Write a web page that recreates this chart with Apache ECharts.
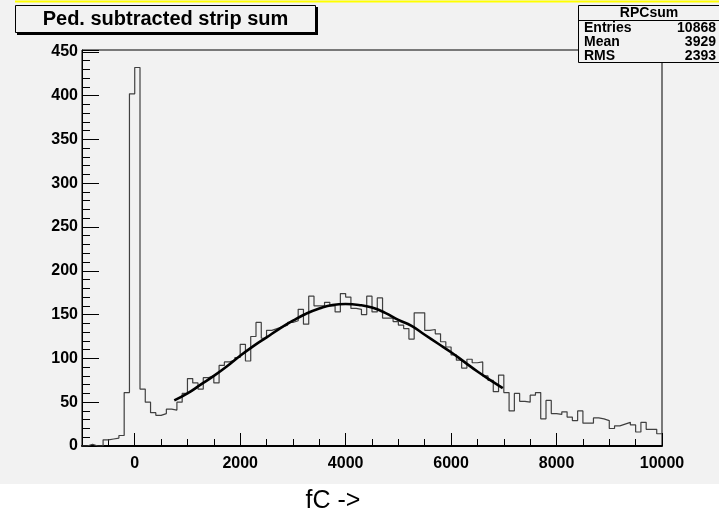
<!DOCTYPE html>
<html><head><meta charset="utf-8">
<script src="https://cdn.jsdelivr.net/npm/echarts@6/dist/echarts.min.js"></script>
<style>html,body{margin:0;padding:0;background:#fff}#c{width:719px;height:518px}</style>
</head><body><div id="c"></div>
<script>
// ---- data ----
const binStart = -1000;
const binWidth = 100;
const counts = [
  0, 2, 0, 0, 7, 8, 9, 12, 61, 402,
  432, 65, 50, 38, 35, 37, 42, 41, 50, 60,
  77, 72, 65, 78, 80, 72, 92, 96, 98, 101,
  116, 97, 125, 141, 123, 132, 134, 136, 138, 141,
  143, 156, 139, 171, 160, 160, 164, 160, 153, 174,
  170, 157, 156, 150, 171, 153, 169, 146, 146, 142,
  138, 134, 122, 152, 152, 132, 133, 128, 119, 113,
  104, 98, 89, 99, 95, 96, 80, 75, 62, 81,
  61, 40, 60, 51, 50, 58, 61, 31, 52, 37,
  36, 39, 33, 29, 40, 26, 26, 32, 31, 29,
  20, 23, 25, 27, 24, 16, 27, 19, 19, 14
];
const fitX = [750, 1000, 1250, 1500, 1750, 2000, 2250, 2500, 2750, 3000, 3250, 3500, 3750, 4000, 4250, 4500, 4750, 5000, 5250, 5500, 5750, 6000, 6250, 6500, 6750, 6980];
const fitY = [52, 60, 70, 80, 91, 103, 114, 124, 134, 143, 151, 157, 161, 162, 161, 158, 152, 144, 137, 127, 117, 107, 96, 85, 75, 66];
const xMajorTicks = [0, 2000, 4000, 6000, 8000, 10000];
const titleText = 'Ped. subtracted strip sum';
const statsName = 'RPCsum';
const statsLabels = ['Entries', 'Mean', 'RMS'];
const statsValues = ['10868', '3929', '2393'];
const xTitle = 'fC ->';

// ---- build ----
const histData = counts.map((c, i) => [binStart + i * binWidth, c]);
histData.push([binStart + counts.length * binWidth, counts[counts.length - 1]]);
const fitData = fitX.map((x, i) => [x, fitY[i]]);

const FONT = '"Liberation Sans", Arial, Helvetica, sans-serif';
const GRAY = '#f2f2f2';

const graphic = [
  { type: 'rect', shape: { x: 0, y: 0, width: 719, height: 484 }, style: { fill: GRAY }, z: -10, silent: true },
  { type: 'line', shape: { x1: 15, y1: 1.5, x2: 719, y2: 1.5 }, style: { stroke: '#ffff00', lineWidth: 2 }, z: 5 },
  // title box with shadow
  { type: 'rect', shape: { x: 17, y: 7, width: 301, height: 28 }, style: { fill: '#000' }, z: 5 },
  { type: 'rect', shape: { x: 15.5, y: 5.5, width: 300, height: 27 }, style: { fill: GRAY, stroke: '#000', lineWidth: 1 }, z: 6 },
  { type: 'text', x: 165.5, y: 19.5, style: { text: titleText, font: 'bold 20px ' + FONT, fill: '#000', align: 'center', verticalAlign: 'middle' }, z: 7 },
  // stats box
  { type: 'rect', shape: { x: 578.5, y: 5.5, width: 145, height: 57 }, style: { fill: GRAY, stroke: '#000', lineWidth: 1 }, z: 6 },
  { type: 'line', shape: { x1: 578.5, y1: 20.5, x2: 719, y2: 20.5 }, style: { stroke: '#000', lineWidth: 1 }, z: 7 },
  { type: 'text', x: 649, y: 13.5, style: { text: statsName, font: 'bold 14px ' + FONT, fill: '#000', align: 'center', verticalAlign: 'middle' }, z: 7 },
  // x title
  { type: 'text', x: 333, y: 501, style: { text: xTitle, font: '25px ' + FONT, fill: '#000', align: 'center', verticalAlign: 'middle' }, z: 7 }
];
statsLabels.forEach((lab, i) => {
  const y = 28.5 + i * 13.8;
  graphic.push({ type: 'text', x: 584, y: y, style: { text: lab, font: 'bold 14px ' + FONT, fill: '#000', align: 'left', verticalAlign: 'middle' }, z: 7 });
  graphic.push({ type: 'text', x: 716, y: y, style: { text: statsValues[i], font: 'bold 14px ' + FONT, fill: '#000', align: 'right', verticalAlign: 'middle' }, z: 7 });
});

const chart = echarts.init(document.getElementById('c'), null, { renderer: 'canvas' });
chart.setOption({
  animation: false,
  backgroundColor: '#ffffff',
  grid: { left: 82, top: 50, width: 580, height: 396, show: true, backgroundColor: GRAY, borderColor: '#000', borderWidth: 1 },
  xAxis: [
    {
      type: 'value', min: -1000, max: 10000, interval: 500,
      axisLine: { show: true, onZero: false, lineStyle: { color: '#000', width: 2 } },
      axisTick: { show: true, inside: true, length: 7, lineStyle: { color: '#000', width: 1 } },
      axisLabel: { margin: 10, color: '#000', fontFamily: FONT, fontWeight: 'bold', fontSize: 16,
        formatter: v => (xMajorTicks.indexOf(v) >= 0 ? String(v) : '') },
      splitLine: { show: false }
    },
    {
      type: 'value', min: -1000, max: 10000, position: 'bottom',
      axisLine: { show: false },
      axisTick: { show: true, inside: true, length: 13, customValues: xMajorTicks, lineStyle: { color: '#000', width: 1 } },
      axisLabel: { show: false },
      splitLine: { show: false }
    }
  ],
  yAxis: {
    type: 'value', min: 0, max: 452, interval: 50,
    axisLine: { show: true, onZero: false, lineStyle: { color: '#000', width: 1 } },
    axisTick: { show: true, inside: true, length: 17, lineStyle: { color: '#000', width: 1 } },
    minorTick: { show: true, splitNumber: 5, length: 8, lineStyle: { color: '#000', width: 1 } },
    axisLabel: { margin: 4, color: '#000', fontFamily: FONT, fontWeight: 'bold', fontSize: 16,
      formatter: v => (v % 50 === 0 ? String(v) : '') },
    splitLine: { show: false }, minorSplitLine: { show: false }
  },
  series: [
    { type: 'line', step: 'end', data: histData, showSymbol: false, symbol: 'none',
      lineStyle: { color: '#404040', width: 1.2 }, z: 3, clip: true },
    { type: 'line', smooth: true, data: fitData, showSymbol: false, symbol: 'none',
      lineStyle: { color: '#000', width: 2.6 }, z: 4, clip: true }
  ],
  graphic: graphic
});
</script></body></html>
